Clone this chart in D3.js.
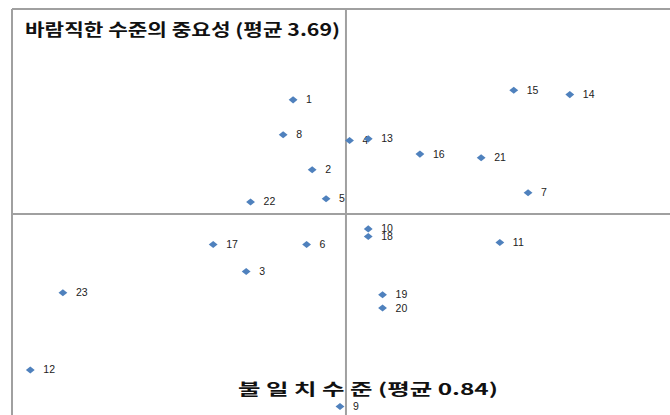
<!DOCTYPE html>
<html>
<head>
<meta charset="utf-8">
<script src="https://cdn.jsdelivr.net/npm/d3@7"></script>
<style>
  body { margin: 0; background: #fff; }
  svg { display: block; font-family: "Liberation Sans", Arial, sans-serif; }
</style>
</head>
<body>
<svg id="chart" width="670" height="415"></svg>
<script>
/* Data */
var labels = ["1","2","3","4","5","6","7","8","9","10","11","12",
              "13","14","15","16","17","18","19","20","21","22","23"];
// 불일치 수준 (x)
var gap = [0.707,0.755,0.589,0.849,0.790,0.741,1.298,0.682,0.825,0.896,1.227,0.046,
           0.896,1.403,1.262,1.026,0.506,0.896,0.932,0.932,1.180,0.600,0.128];
// 바람직한 수준의 중요성 (y)
var importance = [3.974,3.800,3.547,3.873,3.728,3.614,3.743,3.887,3.211,3.653,3.619,3.302,
                  3.877,3.987,3.998,3.839,3.614,3.634,3.489,3.456,3.830,3.720,3.494];
var gapMean = 0.84;
var impMean = 3.69;
var yTitle = "바람직한 수준의 중요성 (평균 3.69)";
var xTitle = "불 일 치 수 준 (평균 0.84)";

var points = labels.map((d, i) => ({ label: d, x: gap[i], y: importance[i] }));

/* Scales */
var x = d3.scaleLinear().domain([0, 1.655]).range([12, 670]);
var y = d3.scaleLinear().domain([3.19, 4.2]).range([415, 9]);

var svg = d3.select("svg#chart");

// frame (top + left)
svg.append("line")
  .attr("x1", 12).attr("x2", 670)
  .attr("y1", 9).attr("y2", 9)
  .attr("stroke", "#a0a0a0")
  .attr("stroke-width", 2);
svg.append("line")
  .attr("x1", 12).attr("x2", 12)
  .attr("y1", 9).attr("y2", 415)
  .attr("stroke", "#a0a0a0")
  .attr("stroke-width", 2);

// mean lines
svg.append("line")
  .attr("x1", 12).attr("x2", 670)
  .attr("y1", y(impMean)).attr("y2", y(impMean))
  .attr("stroke", "#a0a0a0")
  .attr("stroke-width", 2);
svg.append("line")
  .attr("x1", x(gapMean)).attr("x2", x(gapMean))
  .attr("y1", 9).attr("y2", 415)
  .attr("stroke", "#a0a0a0")
  .attr("stroke-width", 2);

// titles
svg.append("text")
  .attr("x", 25).attr("y", 36)
  .attr("font-family", "'Noto Sans CJK KR', sans-serif")
  .attr("font-weight", "bold")
  .attr("font-size", 17)
  .attr("textLength", 315)
  .attr("lengthAdjust", "spacingAndGlyphs")
  .attr("fill", "#111")
  .text(yTitle);

svg.append("text")
  .attr("x", 238).attr("y", 395)
  .attr("font-family", "'Noto Sans CJK KR', sans-serif")
  .attr("font-weight", "bold")
  .attr("font-size", 16)
  .attr("textLength", 260)
  .attr("lengthAdjust", "spacingAndGlyphs")
  .attr("fill", "#111")
  .text(xTitle);

// points
var marker = d3.symbol().type(d3.symbolSquare).size(25);

var g = svg.selectAll("g.pt")
  .data(points)
  .enter()
  .append("g")
  .attr("class", "pt")
  .attr("transform", d => `translate(${x(d.x)},${y(d.y)})`);

g.append("path")
  .attr("d", marker)
  .attr("transform", "scale(1.25,1) rotate(45)")
  .attr("fill", "#4f81bd");

g.append("text")
  .attr("x", 13)
  .attr("y", 3.5)
  .attr("font-size", 10.5)
  .attr("fill", "#222")
  .text(d => d.label);
</script>
</body>
</html>
